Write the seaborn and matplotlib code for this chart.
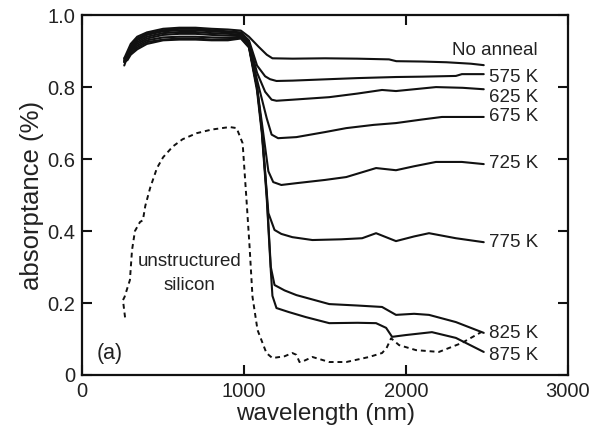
import matplotlib
matplotlib.use("Agg")
import matplotlib.pyplot as plt
import seaborn as sns
import pandas as pd

# ---------------- data ----------------
plateau_x = [260, 280, 300, 340, 400, 500, 600, 700, 800, 900, 980]

noanneal_x = plateau_x + [1030, 1090, 1140, 1175, 1300, 1500, 1700, 1895, 1940, 2100, 2250, 2400, 2480]
noanneal_y = [0.88, 0.90, 0.92, 0.94, 0.952, 0.962, 0.965, 0.965, 0.962, 0.96, 0.957,
              0.94, 0.912, 0.89, 0.88, 0.879, 0.88, 0.879, 0.877, 0.872, 0.871, 0.869, 0.865, 0.861]

k575_x = plateau_x + [1030, 1080, 1130, 1160, 1200, 1300, 1526, 1700, 1938, 2100, 2308, 2345, 2480]
k575_y = [0.87, 0.89, 0.915, 0.935, 0.948, 0.958, 0.962, 0.962, 0.958, 0.955, 0.952,
          0.93, 0.86, 0.83, 0.822, 0.817, 0.818, 0.822, 0.825, 0.828, 0.829, 0.831, 0.836, 0.836]

k625_x = plateau_x + [1030, 1080, 1130, 1170, 1200, 1300, 1526, 1700, 1852, 1938, 2185, 2350, 2480]
k625_y = [0.86, 0.885, 0.91, 0.93, 0.945, 0.955, 0.958, 0.958, 0.955, 0.952, 0.95,
          0.925, 0.84, 0.787, 0.765, 0.762, 0.765, 0.772, 0.782, 0.792, 0.789, 0.80, 0.798, 0.794]

k675_x = plateau_x + [1030, 1080, 1140, 1170, 1210, 1323, 1500, 1631, 1800, 1938, 2100, 2222, 2480]
k675_y = [0.87, 0.885, 0.905, 0.925, 0.94, 0.95, 0.953, 0.953, 0.95, 0.948, 0.946,
          0.92, 0.82, 0.713, 0.668, 0.658, 0.661, 0.675, 0.686, 0.695, 0.70, 0.71, 0.717, 0.717]

k725_x = plateau_x + [1030, 1080, 1150, 1180, 1230, 1323, 1500, 1631, 1815, 1938, 2050, 2185, 2345, 2480]
k725_y = [0.875, 0.89, 0.905, 0.92, 0.935, 0.945, 0.948, 0.948, 0.945, 0.943, 0.943,
          0.915, 0.80, 0.566, 0.536, 0.528, 0.533, 0.542, 0.55, 0.575, 0.569, 0.58, 0.592, 0.592, 0.586]

k775_x = plateau_x + [1030, 1080, 1110, 1150, 1188, 1230, 1298, 1422, 1600, 1729, 1815, 1938, 2050, 2142, 2308, 2480]
k775_y = [0.88, 0.885, 0.9, 0.915, 0.93, 0.938, 0.94, 0.94, 0.938, 0.937, 0.94,
          0.915, 0.80, 0.68, 0.45, 0.403, 0.392, 0.383, 0.375, 0.377, 0.38, 0.394, 0.372, 0.385, 0.394, 0.38, 0.369]

k825_x = plateau_x + [1030, 1080, 1110, 1140, 1165, 1188, 1250, 1323, 1526, 1700, 1852, 1938, 2050, 2142, 2308, 2480]
k825_y = [0.875, 0.88, 0.895, 0.91, 0.925, 0.932, 0.935, 0.935, 0.932, 0.933, 0.938,
          0.912, 0.80, 0.68, 0.50, 0.30, 0.25, 0.235, 0.222, 0.197, 0.193, 0.189, 0.167, 0.17, 0.167, 0.147, 0.117]

k875_x = plateau_x + [1030, 1080, 1110, 1140, 1165, 1175, 1200, 1275, 1380, 1526, 1700, 1815, 1877, 1914, 2000, 2160, 2308, 2480]
k875_y = [0.87, 0.875, 0.89, 0.905, 0.92, 0.93, 0.932, 0.932, 0.93, 0.93, 0.935,
          0.91, 0.79, 0.67, 0.49, 0.29, 0.22, 0.186, 0.175, 0.161, 0.144, 0.145, 0.144, 0.131, 0.106, 0.111, 0.119, 0.103, 0.064]

si_x = [265, 252, 262, 295, 308, 326, 357, 375, 390, 420, 462, 500, 560, 620, 708, 800, 911, 954, 991, 1015,
        1034, 1052, 1083, 1138, 1175, 1250, 1298, 1323, 1342, 1354, 1422, 1526, 1631, 1772, 1852, 1880,
        1908, 1957, 2062, 2203, 2345, 2468]
si_y = [0.16, 0.208, 0.217, 0.264, 0.347, 0.40, 0.425, 0.43, 0.47, 0.52, 0.575, 0.605, 0.635, 0.655, 0.672,
        0.682, 0.689, 0.686, 0.644, 0.486, 0.356, 0.217, 0.125, 0.061, 0.047, 0.052, 0.061, 0.056, 0.036,
        0.036, 0.05, 0.036, 0.036, 0.05, 0.061, 0.075, 0.102, 0.083, 0.069, 0.064, 0.089, 0.12]

labels = ["No anneal", "575 K", "625 K", "675 K", "725 K", "775 K", "825 K", "875 K"]
label_x = [2283, 2511, 2511, 2511, 2511, 2511, 2511, 2511]
label_y = [0.903, 0.828, 0.772, 0.717, 0.589, 0.369, 0.114, 0.053]

x_ticks = [0, 1000, 2000, 3000]
y_ticks = [0, 0.2, 0.4, 0.6, 0.8, 1.0]
y_ticklabels = ["0", "0.2", "0.4", "0.6", "0.8", "1.0"]

# ---------------- plotting ----------------
sns.set_theme(style="ticks")
plt.rcParams["font.family"] = ["Liberation Sans", "DejaVu Sans"]
ink = "#222222"

fig = plt.figure(figsize=(5.91, 4.32), dpi=100)
ax = fig.add_axes([0.139, 0.132, 0.822, 0.833])

curves = [(noanneal_x, noanneal_y), (k575_x, k575_y), (k625_x, k625_y), (k675_x, k675_y),
          (k725_x, k725_y), (k775_x, k775_y), (k825_x, k825_y), (k875_x, k875_y)]
for cx, cy in curves:
    sns.lineplot(x=cx, y=cy, ax=ax, color="#111111", lw=1.5, sort=False, estimator=None)

sns.lineplot(x=si_x, y=si_y, ax=ax, color="#111111", lw=1.4, sort=False, estimator=None,
             linestyle=(0, (2.5, 2)))

for t, lx, ly in zip(labels, label_x, label_y):
    ax.text(lx, ly, t, fontsize=13.5, color=ink, ha="left", va="center")

ax.text(665, 0.314, "unstructured", fontsize=13.5, color=ink, ha="center", va="center")
ax.text(665, 0.25, "silicon", fontsize=13.5, color=ink, ha="center", va="center")
ax.text(92, 0.061, "(a)", fontsize=15.5, color=ink, ha="left", va="center")

ax.set_xlim(0, 3000)
ax.set_ylim(0, 1.0)
ax.set_xticks(x_ticks)
ax.set_xticklabels([str(v) for v in x_ticks])
ax.set_yticks(y_ticks)
ax.set_yticklabels(y_ticklabels)
ax.tick_params(direction="in", length=7, width=1.5, top=True, right=True,
               labelsize=14.5, labelcolor=ink, color="#111111", pad=5)
for s in ax.spines.values():
    s.set_linewidth(1.6)
    s.set_color("#111111")
ax.set_xlabel("wavelength (nm)", fontsize=17.5, color=ink, labelpad=1.5)
ax.set_ylabel("absorptance (%)", fontsize=18.5, color=ink, labelpad=2)

fig.savefig("out.png", dpi=100)
